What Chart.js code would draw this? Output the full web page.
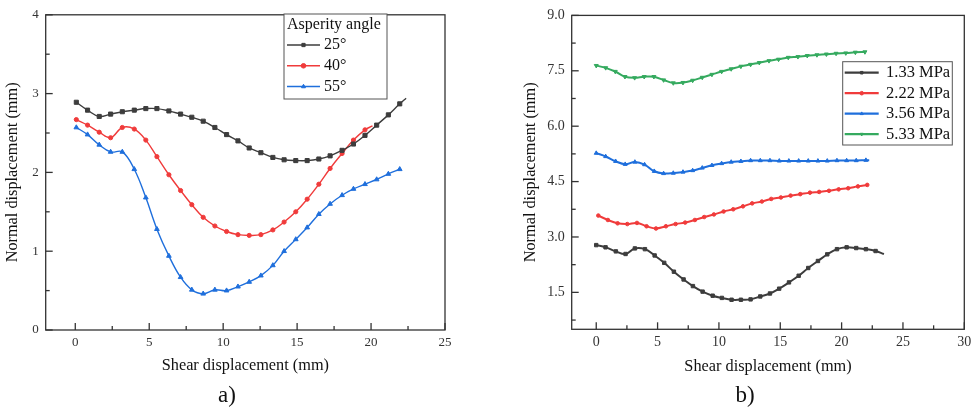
<!DOCTYPE html>
<html>
<head>
<meta charset="utf-8">
<script src="https://cdn.jsdelivr.net/npm/chart.js@4.4.0/dist/chart.umd.min.js"></script>
<style>
  html, body { margin: 0; padding: 0; background: #fff; }
  #wrap { position: relative; width: 978px; height: 410px; overflow: hidden; }
  .box { position: absolute; top: 0; height: 410px; }
  #boxA { left: 0; width: 460px; }
  #boxB { left: 460px; width: 518px; }
  .tag { position: absolute; top: 381px; font-family: "Liberation Serif", serif; font-size: 23px; color: #111; transform: translateX(-50%); line-height: 28px; }
</style>
</head>
<body>
<div id="wrap">
  <div class="box" id="boxA"><canvas id="chartA" width="460" height="410"></canvas></div>
  <div class="box" id="boxB"><canvas id="chartB" width="518" height="410"></canvas></div>
  <div class="tag" style="left:227px">a)</div>
  <div class="tag" style="left:745px">b)</div>
</div>
<script>
// a) asperity angle series
const shearA25 = [0.07, 0.83, 1.62, 2.39, 3.18, 3.99, 4.77, 5.52, 6.33, 7.12, 7.88, 8.65, 9.44, 10.23, 11.0, 11.76, 12.55, 13.36, 14.12, 14.91, 15.68, 16.47, 17.23, 18.04, 18.81, 19.59, 20.38, 21.17, 21.94, 22.37];
const normA25 = [2.89, 2.79, 2.71, 2.74, 2.77, 2.79, 2.81, 2.81, 2.78, 2.74, 2.70, 2.65, 2.57, 2.48, 2.40, 2.31, 2.25, 2.19, 2.16, 2.15, 2.15, 2.17, 2.21, 2.28, 2.36, 2.47, 2.60, 2.73, 2.87, 2.94];
const shearA40 = [0.07, 0.83, 1.62, 2.39, 3.18, 3.99, 4.77, 5.52, 6.33, 7.12, 7.88, 8.65, 9.44, 10.23, 11.0, 11.76, 12.55, 13.36, 14.12, 14.91, 15.68, 16.47, 17.23, 18.04, 18.81, 19.59, 20.1];
const normA40 = [2.67, 2.60, 2.51, 2.44, 2.57, 2.55, 2.41, 2.20, 1.97, 1.77, 1.59, 1.43, 1.32, 1.25, 1.21, 1.20, 1.21, 1.27, 1.37, 1.50, 1.66, 1.85, 2.05, 2.24, 2.41, 2.54, 2.59];
const shearA55 = [0.07, 0.83, 1.62, 2.39, 3.18, 3.99, 4.77, 5.52, 6.33, 7.12, 7.88, 8.65, 9.44, 10.23, 11.0, 11.76, 12.55, 13.36, 14.12, 14.91, 15.68, 16.47, 17.23, 18.04, 18.81, 19.59, 20.38, 21.17, 21.94];
const normA55 = [2.57, 2.48, 2.35, 2.26, 2.26, 2.04, 1.68, 1.28, 0.94, 0.67, 0.51, 0.46, 0.51, 0.50, 0.55, 0.61, 0.69, 0.82, 1.00, 1.15, 1.30, 1.47, 1.60, 1.71, 1.79, 1.85, 1.91, 1.98, 2.04];
const labelsA = ['25°', '40°', '55°'];
const xTicksA = [0, 5, 10, 15, 20, 25];
const yTicksA = [0, 1, 2, 3, 4];

// b) normal stress series
const shearB133 = [0, 0.76, 1.6, 2.39, 3.15, 3.97, 4.76, 5.54, 6.33, 7.12, 7.88, 8.67, 9.49, 10.24, 11.03, 11.79, 12.58, 13.37, 14.16, 14.91, 15.71, 16.5, 17.28, 18.07, 18.83, 19.62, 20.41, 21.19, 21.98, 22.77, 23.45];
const normB133 = [2.78, 2.72, 2.61, 2.54, 2.69, 2.67, 2.50, 2.30, 2.06, 1.85, 1.67, 1.52, 1.41, 1.35, 1.30, 1.30, 1.31, 1.39, 1.47, 1.60, 1.77, 1.95, 2.16, 2.35, 2.53, 2.67, 2.72, 2.70, 2.67, 2.62, 2.54];
const shearB222 = [0.17, 0.95, 1.74, 2.53, 3.32, 4.10, 4.87, 5.68, 6.47, 7.25, 8.04, 8.80, 9.59, 10.38, 11.17, 11.96, 12.71, 13.50, 14.26, 15.05, 15.84, 16.63, 17.42, 18.17, 18.97, 19.76, 20.54, 21.33, 22.09];
const normB222 = [3.58, 3.46, 3.37, 3.35, 3.38, 3.29, 3.23, 3.29, 3.35, 3.39, 3.46, 3.54, 3.61, 3.69, 3.75, 3.83, 3.91, 3.96, 4.03, 4.07, 4.12, 4.16, 4.20, 4.22, 4.25, 4.29, 4.32, 4.37, 4.41];
const shearB356 = [0, 0.77, 1.58, 2.36, 3.15, 3.94, 4.73, 5.49, 6.28, 7.07, 7.86, 8.64, 9.43, 10.22, 11.0, 11.79, 12.58, 13.37, 14.16, 14.92, 15.7, 16.5, 17.28, 18.07, 18.83, 19.62, 20.41, 21.19, 21.98, 22.25];
const normB356 = [5.27, 5.18, 5.05, 4.97, 5.03, 4.96, 4.78, 4.72, 4.73, 4.76, 4.80, 4.87, 4.94, 4.99, 5.03, 5.05, 5.07, 5.07, 5.07, 5.06, 5.06, 5.06, 5.06, 5.06, 5.06, 5.07, 5.07, 5.07, 5.08, 5.08];
const shearB533 = [0, 0.77, 1.55, 2.34, 3.13, 3.91, 4.7, 5.49, 6.28, 7.07, 7.86, 8.64, 9.43, 10.22, 11.0, 11.79, 12.58, 13.29, 14.08, 14.86, 15.65, 16.44, 17.2, 17.99, 18.76, 19.55, 20.34, 21.12, 21.9];
const normB533 = [7.64, 7.58, 7.48, 7.34, 7.31, 7.34, 7.34, 7.25, 7.17, 7.18, 7.24, 7.32, 7.40, 7.48, 7.55, 7.62, 7.67, 7.72, 7.77, 7.81, 7.86, 7.88, 7.91, 7.93, 7.95, 7.97, 7.98, 8.00, 8.01];
const labelsB = ['1.33 MPa', '2.22 MPa', '3.56 MPa', '5.33 MPa'];
const xTicksB = [0, 5, 10, 15, 20, 25, 30];
const yTicksB = [1.5, 3.0, 4.5, 6.0, 7.5, 9.0];

const BLACK = '#3d3d3d', RED = '#f03b3b', BLUE = '#1f6fdc', GREEN = '#35aa5f';
const SERIF = '"Liberation Serif", "Times New Roman", serif';
Chart.defaults.font.family = SERIF;

function pts(xs, ys) {
    return xs.map((x, i) => ({ x: x, y: ys[i] }));
}

// some curves run on a bit past their last marker
function radiusFor(r) {
    return ctx => (ctx.dataset.tail && ctx.dataIndex === ctx.dataset.data.length - 1) ? 0 : r;
}

function series(label, xs, ys, color, style, r, lw, extra) {
    return Object.assign({
        label: label,
        data: pts(xs, ys),
        showLine: true,
        borderColor: color,
        backgroundColor: color,
        borderWidth: lw,
        pointStyle: style,
        pointRadius: radiusFor(r),
        pointBorderWidth: 1,
        tension: 0.4
    }, extra || {});
}

// frame + inward major/minor ticks like Origin
const frameTicks = {
    id: 'frameTicks',
    afterDraw(chart) {
        const { ctx, chartArea: a, scales } = chart;
        ctx.save();
        ctx.strokeStyle = '#333';
        ctx.lineWidth = 1.3;
        ctx.strokeRect(a.left, a.top, a.right - a.left, a.bottom - a.top);
        const draw = (scale, horiz) => {
            const vals = scale.ticks.map(t => t.value);
            const half = (vals[1] - vals[0]) / 2;
            const marks = [[vals[0] - half, 4]];
            vals.forEach(v => { marks.push([v, 7]); marks.push([v + half, 4]); });
            marks.forEach(([v, len]) => {
                if (v < scale.min - 1e-9 || v > scale.max + 1e-9) return;
                const p = scale.getPixelForValue(v);
                ctx.beginPath();
                if (horiz) { ctx.moveTo(p, a.bottom); ctx.lineTo(p, a.bottom - len); }
                else { ctx.moveTo(a.left, p); ctx.lineTo(a.left + len, p); }
                ctx.stroke();
            });
        };
        draw(scales.x, true);
        draw(scales.y, false);
        ctx.restore();
    }
};

// boxed legend inside the plot
const boxLegend = {
    id: 'boxLegend',
    afterDraw(chart, args, o) {
        const ctx = chart.ctx;
        ctx.save();
        ctx.fillStyle = '#fff';
        ctx.fillRect(o.x, o.y, o.w, o.h);
        ctx.strokeStyle = '#555';
        ctx.lineWidth = 1;
        ctx.strokeRect(o.x, o.y, o.w, o.h);
        ctx.font = o.font;
        ctx.textBaseline = 'middle';
        ctx.fillStyle = '#111';
        if (o.title) ctx.fillText(o.title, o.x + o.titleX, o.titleY);
        chart.data.datasets.forEach((ds, i) => {
            const cy = o.firstY + i * o.rowH;
            const lx = o.x + o.lineX;
            ctx.strokeStyle = ds.borderColor;
            ctx.lineWidth = o.lineW;
            ctx.beginPath();
            ctx.moveTo(lx, cy);
            ctx.lineTo(lx + o.lineLen, cy);
            ctx.stroke();
            ctx.fillStyle = ds.backgroundColor;
            ctx.lineWidth = 1;
            Chart.helpers.drawPoint(ctx, {
                pointStyle: ds.pointStyle, radius: o.markR,
                rotation: ds.pointRotation || 0, borderWidth: 1
            }, lx + o.lineLen / 2, cy);
            ctx.fillStyle = '#111';
            ctx.fillText(ds.label, o.x + o.textX, cy);
        });
        ctx.restore();
    }
};

function axes(xMin, xMax, xTicks, yMin, yMax, yTicks, yWidth, xHeight, tickSize, fmt) {
    return {
        x: {
            type: 'linear', min: xMin, max: xMax,
            afterBuildTicks: s => { s.ticks = xTicks.map(v => ({ value: v })); },
            afterFit: s => { s.height = xHeight; },
            grid: { display: false, drawTicks: false },
            border: { display: false },
            ticks: { padding: 5, color: '#333', font: { size: tickSize }, maxRotation: 0, autoSkip: false },
            title: { display: true, text: 'Shear displacement (mm)', color: '#111', padding: 0, font: { size: 16.3 } }
        },
        y: {
            type: 'linear', min: yMin, max: yMax,
            afterBuildTicks: s => { s.ticks = yTicks.map(v => ({ value: v })); },
            afterFit: s => { s.width = yWidth; },
            grid: { display: false, drawTicks: false },
            border: { display: false },
            ticks: { padding: 7, color: '#333', font: { size: tickSize }, autoSkip: false, callback: fmt },
            title: { display: true, text: 'Normal displacement (mm)', color: '#111', padding: 0, font: { size: 16.3 } }
        }
    };
}

new Chart(document.getElementById('chartA'), {
    type: 'scatter',
    data: {
        datasets: [
            series(labelsA[0], shearA25, normA25, BLACK, 'rect', 2.9, 1.4, { tail: true }),
            series(labelsA[1], shearA40, normA40, RED, 'circle', 2.1, 1.4, { tail: true }),
            series(labelsA[2], shearA55, normA55, BLUE, 'triangle', 2.7, 1.4)
        ]
    },
    options: {
        responsive: false,
        animation: false,
        layout: { padding: { left: 3.2, right: 15, top: 7.3, bottom: 34.2 } },
        scales: axes(-2, 25, xTicksA, 0, 4, yTicksA, 42.5, 45.8, 13, v => String(v)),
        plugins: {
            legend: { display: false },
            tooltip: { enabled: false },
            boxLegend: {
                x: 284, y: 14, w: 103, h: 85,
                title: 'Asperity angle', titleX: 3, titleY: 25,
                firstY: 45, rowH: 20.8, lineX: 3, lineLen: 33, lineW: 1.5,
                textX: 40, markR: 2.3, font: '16px ' + SERIF
            }
        }
    },
    plugins: [frameTicks, boxLegend]
});

new Chart(document.getElementById('chartB'), {
    type: 'scatter',
    data: {
        datasets: [
            series(labelsB[0], shearB133, normB133, BLACK, 'rect', 2.4, 2, { tail: true }),
            series(labelsB[1], shearB222, normB222, RED, 'circle', 1.8, 2),
            series(labelsB[2], shearB356, normB356, BLUE, 'triangle', 2.3, 2, { tail: true }),
            series(labelsB[3], shearB533, normB533, GREEN, 'triangle', 2.3, 2, { pointRotation: 180 })
        ]
    },
    options: {
        responsive: false,
        animation: false,
        layout: { padding: { left: 60.9, right: 13.7, top: 12.7, bottom: 33.2 } },
        scales: axes(-2, 30, xTicksB, 0.5, 9.0, yTicksB, 50.8, 47.5, 14, v => v.toFixed(1)),
        plugins: {
            legend: { display: false },
            tooltip: { enabled: false },
            boxLegend: {
                x: 382.7, y: 61.7, w: 109.6, h: 83.3,
                title: null,
                firstY: 72.7, rowH: 20.5, lineX: 2, lineLen: 34, lineW: 2.2,
                textX: 43.3, markR: 1.8, font: '16.5px ' + SERIF
            }
        }
    },
    plugins: [frameTicks, boxLegend]
});
</script>
</body>
</html>
